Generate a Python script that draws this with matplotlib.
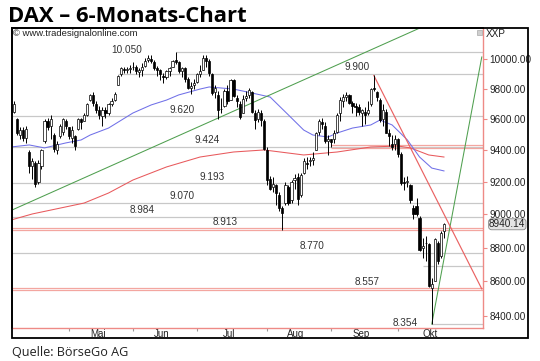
import numpy as np
import pandas as pd
import matplotlib
matplotlib.use('Agg')
import matplotlib.pyplot as plt
from matplotlib.patches import Rectangle
from matplotlib.ticker import FixedLocator, NullLocator, NullFormatter, FuncFormatter
from matplotlib.transforms import blended_transform_factory

plt.rcParams['font.family'] = ['Liberation Sans', 'DejaVu Sans']

# Handelstage 3.4. - 22.10.2014 (Xetra)
tage = pd.bdate_range('2014-04-03', '2014-10-22', freq='C',
                      holidays=['2014-04-18', '2014-04-21', '2014-05-01'])

# Tageskerzen (aus dem Bild geschaetzt)
eroeffnung = [9650, 9600, 9500, 9530, 9480, 9390, 9300, 9320, 9200, 9300,
              9460, 9590, 9560, 9500, 9400, 9490, 9520, 9590, 9550, 9480,
              9490, 9540, 9600, 9590, 9630, 9725, 9760, 9700, 9660, 9620,
              9660, 9640, 9700, 9730, 9830, 9900, 9935, 9930, 9935, 9945,
              9950, 9915, 9930, 9955, 9995, 10005, 9985, 9940, 9925, 9890,
              9880, 9920, 9950, 9995, 9980, 9920, 9940, 9870, 9810, 9830,
              9850, 9900, 9930, 10010, 9990, 9900, 9780, 9760, 9670, 9690,
              9790, 9730, 9860, 9740, 9700, 9640, 9740, 9760, 9780, 9640,
              9600, 9640, 9590, 9400, 9220, 9170, 9180, 9120, 9040, 9070,
              9170, 9090, 9210, 9230, 9120, 9260, 9320, 9330, 9340, 9400,
              9520, 9580, 9560, 9460, 9470, 9470, 9520, 9640, 9720, 9750,
              9760, 9710, 9690, 9680, 9640, 9650, 9640, 9700, 9810, 9780,
              9730, 9600, 9650, 9510, 9440, 9440, 9470, 9380, 9200, 9200,
              9180, 9040, 9050, 8980, 8800, 8830, 8820, 8560, 8600, 8830,
              8750, 8900]
hoch = [9720, 9610, 9550, 9550, 9560, 9400, 9350, 9330, 9340, 9410,
        9600, 9610, 9630, 9510, 9460, 9570, 9610, 9600, 9550, 9560,
        9500, 9610, 9610, 9640, 9710, 9770, 9780, 9720, 9690, 9680,
        9680, 9710, 9740, 9780, 9895, 9950, 9950, 9950, 9960, 9980,
        9960, 9940, 9975, 10010, 10030, 10030, 9995, 9955, 9935, 9910,
        9930, 9950, 9995, 10050, 9990, 9950, 9945, 9880, 9850, 9870,
        9905, 9960, 10030, 10030, 10000, 9910, 9830, 9790, 9740, 9800,
        9830, 9870, 9870, 9760, 9720, 9760, 9790, 9810, 9790, 9660,
        9670, 9660, 9600, 9420, 9240, 9230, 9190, 9140, 9050, 9200,
        9180, 9210, 9250, 9260, 9260, 9350, 9360, 9360, 9390, 9520,
        9600, 9610, 9580, 9500, 9470, 9530, 9640, 9750, 9770, 9780,
        9770, 9720, 9710, 9700, 9670, 9680, 9720, 9810, 9891, 9790,
        9740, 9700, 9670, 9540, 9500, 9500, 9480, 9390, 9230, 9240,
        9190, 9060, 9100, 8990, 8860, 8870, 8830, 8620, 8860, 8840,
        8900, 8950]
tief = [9640, 9500, 9470, 9460, 9450, 9260, 9220, 9170, 9190, 9280,
        9450, 9530, 9470, 9390, 9380, 9480, 9500, 9540, 9470, 9450,
        9400, 9530, 9540, 9590, 9620, 9720, 9690, 9640, 9600, 9560,
        9610, 9630, 9690, 9720, 9830, 9890, 9910, 9905, 9910, 9930,
        9900, 9880, 9890, 9950, 9985, 9975, 9925, 9890, 9860, 9840,
        9870, 9890, 9945, 9970, 9910, 9880, 9850, 9800, 9770, 9800,
        9840, 9880, 9925, 9950, 9890, 9760, 9740, 9600, 9640, 9680,
        9700, 9730, 9750, 9680, 9600, 9640, 9720, 9740, 9640, 9540,
        9580, 9560, 9400, 9180, 9150, 9140, 9060, 9020, 8903, 9060,
        9060, 9070, 9160, 9060, 9110, 9250, 9280, 9300, 9310, 9400,
        9500, 9540, 9450, 9370, 9420, 9450, 9510, 9590, 9680, 9720,
        9700, 9640, 9620, 9630, 9560, 9570, 9630, 9690, 9790, 9720,
        9580, 9560, 9510, 9430, 9400, 9400, 9360, 9180, 9150, 9170,
        9070, 8970, 8990, 8780, 8740, 8720, 8570, 8354, 8600, 8700,
        8740, 8860]
schluss = [9700, 9510, 9530, 9480, 9540, 9300, 9330, 9190, 9320, 9400,
           9590, 9550, 9600, 9410, 9440, 9560, 9600, 9560, 9490, 9530,
           9430, 9600, 9580, 9630, 9700, 9760, 9710, 9660, 9630, 9660,
           9640, 9700, 9720, 9770, 9890, 9940, 9930, 9935, 9940, 9950,
           9920, 9925, 9950, 9990, 10010, 9990, 9940, 9930, 9900, 9880,
           9920, 9940, 9990, 9985, 9920, 9940, 9870, 9810, 9820, 9840,
           9900, 9920, 10010, 9990, 9906, 9775, 9805, 9660, 9670, 9785,
           9720, 9860, 9755, 9720, 9615, 9735, 9755, 9795, 9650, 9595,
           9650, 9595, 9410, 9210, 9160, 9190, 9130, 9040, 9010, 9180,
           9070, 9200, 9225, 9095, 9245, 9335, 9315, 9340, 9350, 9510,
           9590, 9570, 9460, 9475, 9455, 9510, 9630, 9725, 9750, 9760,
           9710, 9690, 9680, 9650, 9660, 9630, 9660, 9800, 9800, 9750,
           9596, 9660, 9515, 9490, 9420, 9475, 9380, 9196, 9195, 9209,
           9086, 9005, 9005, 8788, 8812, 8826, 8572, 8582, 8850, 8717,
           8886, 8940]

# gleitende Durchschnitte (Stuetzpunkte aus dem Bild)
blau_idx = [-1, 5, 10, 17, 22, 25, 31, 39, 45, 50, 54, 61, 64, 72, 78, 84,
            90, 95, 98, 103, 106, 111, 117, 120, 124, 129, 133, 137, 141]
blau = [9422, 9435, 9416, 9448, 9467, 9499, 9544, 9642, 9695, 9727, 9761,
        9800, 9814, 9800, 9774, 9747, 9629, 9531, 9499, 9486, 9512, 9544,
        9564, 9596, 9564, 9467, 9358, 9288, 9270]
rot_idx = [-1, 6, 23, 31, 39, 50, 61, 72, 82, 95, 106, 117, 126, 130, 136, 141]
rot = [8966, 9003, 9070, 9132, 9213, 9295, 9358, 9390, 9403, 9371, 9390,
       9422, 9428, 9416, 9371, 9358]

# Marken (Niveau, Start-Index, rot?)
marken = [10050, 9900, 9620, 9424, 9193, 9070, 8984, 8913, 8770, 8690, 8557, 8354]
marken_start = [53, 34, None, None, None, None, None, None, None, 134, None, 137]
marken_rot = [False, False, False, False, False, False, False, True, False, False, True, False]
rot_9424_start = 104

marken_text = ['10.050', '9.900', '9.620', '9.424', '9.193', '9.070', '8.984',
               '8.913', '8.770', '8.557', '8.354']
marken_text_wert = [10050, 9900, 9620, 9424, 9193, 9070, 8984, 8913, 8770, 8557, 8354]
marken_text_x = [37, 112.5, 55, 63.3, 65, 55, 42, 69.2, 97.7, 115.7, 132.5]

# Trendlinien
gruen1 = ([-0.66, 133.1], [9027, 10215])
gruen2 = ([137, 153.4], [8354, 10016])
trend_rot = ([118, 153.4], [9891, 8556])

y_ticks = [8400, 8600, 8800, 9000, 9200, 9400, 9600, 9800, 10000]
monate = ['Mai', 'Jun', 'Jul', 'Aug', 'Sep', 'Okt']
letzter = 8940.14

W, H = 540, 361
fx = lambda px: px / W
fy = lambda py: 1 - py / H

fig = plt.figure(figsize=(5.4, 3.61), dpi=100)
ax = fig.add_axes([fx(12), fy(328), fx(483) - fx(12), fy(28) - fy(328)])

x = np.arange(len(schluss))
o = np.array(eroeffnung); h = np.array(hoch); l = np.array(tief); c = np.array(schluss)

ax.set_yscale('log')
ax.set_xlim(-0.66, 153.8)
ax.set_ylim(8332, 10215)

grau = '#c8c8c8'
rotlinie = '#f3a6a0'
d = 1.0008  # Doppellinie, etwa 1 px Abstand
def doppel(lev, x0):
    ax.hlines([lev * d, lev / d], x0, 160, color=rotlinie, lw=0.9, zorder=1)

for i, lev in enumerate(marken):
    x0 = -1 if marken_start[i] is None else marken_start[i]
    if marken_rot[i]:
        doppel(lev, x0)
    else:
        ax.hlines(lev, x0, 160, color=grau, lw=0.9, zorder=1)
doppel(9424, rot_9424_start)

for t, v, xi in zip(marken_text, marken_text_wert, marken_text_x):
    if t == '10.050':
        ax.text(xi, 10064, t, ha='center', va='center', fontsize=7.2, color='#333')
    elif t == '8.354':
        ax.text(xi, v * 1.001, t, ha='right', va='center', fontsize=7.2, color='#333')
    else:
        ax.annotate(t, (xi, v), xytext=(0, 1.2), textcoords='offset points',
                    ha='center', va='bottom', fontsize=7.2, color='#333')

ax.plot(rot_idx, rot, color='#e8595c', lw=0.75, zorder=2)
ax.plot(blau_idx, blau, color='#7070e8', lw=0.75, zorder=2)
ax.plot(*gruen1, color='#4f9f4f', lw=0.75, zorder=2)
ax.plot(*gruen2, color='#4f9f4f', lw=0.75, zorder=2)
ax.plot(*trend_rot, color='#ea6262', lw=0.85, zorder=2)

# Kerzen
ax.vlines(x, l, h, color='black', lw=0.7, zorder=3)
farbe = np.where(c >= o, 'white', 'black')
ax.bar(x, np.abs(c - o), bottom=np.minimum(o, c), width=0.72, color=farbe,
       edgecolor='black', linewidth=0.5, zorder=4)

# Achsen
for s in ['top', 'left']:
    ax.spines[s].set_color('black'); ax.spines[s].set_linewidth(1.2)
for s in ['right', 'bottom']:
    ax.spines[s].set_color('#ee8a86'); ax.spines[s].set_linewidth(1.0)

ax.yaxis.tick_right()
ax.yaxis.set_major_locator(FixedLocator(y_ticks))
ax.yaxis.set_major_formatter(FuncFormatter(lambda v, p: f'{v:.2f}'))
ax.yaxis.set_minor_locator(NullLocator())
ax.yaxis.set_minor_formatter(NullFormatter())
ax.tick_params(axis='y', length=3, color='#ee8a86', pad=1.5, labelsize=7.2, labelcolor='#222')

monat_start = [int(np.argmax(tage.month == m)) for m in range(5, 11)]
naechste = monat_start[1:] + [monat_start[-1] + 23]
mitte = [(a + b) / 2 - 1 for a, b in zip(monat_start, naechste)]
ax.set_xticks(monat_start)
ax.set_xticklabels([])
ax.set_xticks(mitte, minor=True)
ax.set_xticklabels(monate, minor=True)
ax.tick_params(axis='x', which='major', length=2.5, color='#999', direction='out')
ax.tick_params(axis='x', which='minor', length=0, pad=0.8, labelsize=7, labelcolor='#222')

trans = blended_transform_factory(ax.transAxes, ax.transData)
ax.text(1.013, letzter, f'{letzter:.2f}', transform=trans, ha='left', va='center',
        fontsize=7.2, color='#222', clip_on=False,
        bbox=dict(boxstyle='round,pad=0.05,rounding_size=0.3', fc='#e4e4e4', ec='#888', lw=0.6))

# Rahmen und Beschriftung
fig.add_artist(Rectangle((fx(12), fy(338)), fx(528) - fx(12), fy(28) - fy(338),
                         transform=fig.transFigure, fill=False, ec='black', lw=1.3))
fig.add_artist(Rectangle((fx(477), fy(35)), fx(482) - fx(477), fy(30) - fy(35),
                         transform=fig.transFigure, fill=True, fc='#cfcfcf', ec='#999', lw=0.4))
fig.text(fx(486), fy(34), 'XXP', fontsize=7.2, va='center', ha='left', color='#222')
fig.text(fx(13), fy(34), '© www.tradesignalonline.com', fontsize=6.8, va='center', ha='left', color='#222')

titel = fig.text(fx(8), fy(22), 'DAX – 6-Monats-Chart', fontsize=13, fontweight='bold',
                 family=['Open Sans', 'DejaVu Sans'], va='baseline', ha='left', color='black')
quelle = fig.text(fx(12), fy(356), 'Quelle: BörseGo AG', fontsize=11,
                  family=['Liberation Sans Narrow', 'Open Sans', 'DejaVu Sans'],
                  va='baseline', ha='left', color='#222')

fig.canvas.draw()
r = fig.canvas.get_renderer()
for t, ziel in [(titel, 237), (quelle, 116)]:
    w = t.get_window_extent(r).width
    t.set_fontsize(t.get_fontsize() * ziel / w)

fig.savefig('out.png', dpi=100, facecolor='white')
